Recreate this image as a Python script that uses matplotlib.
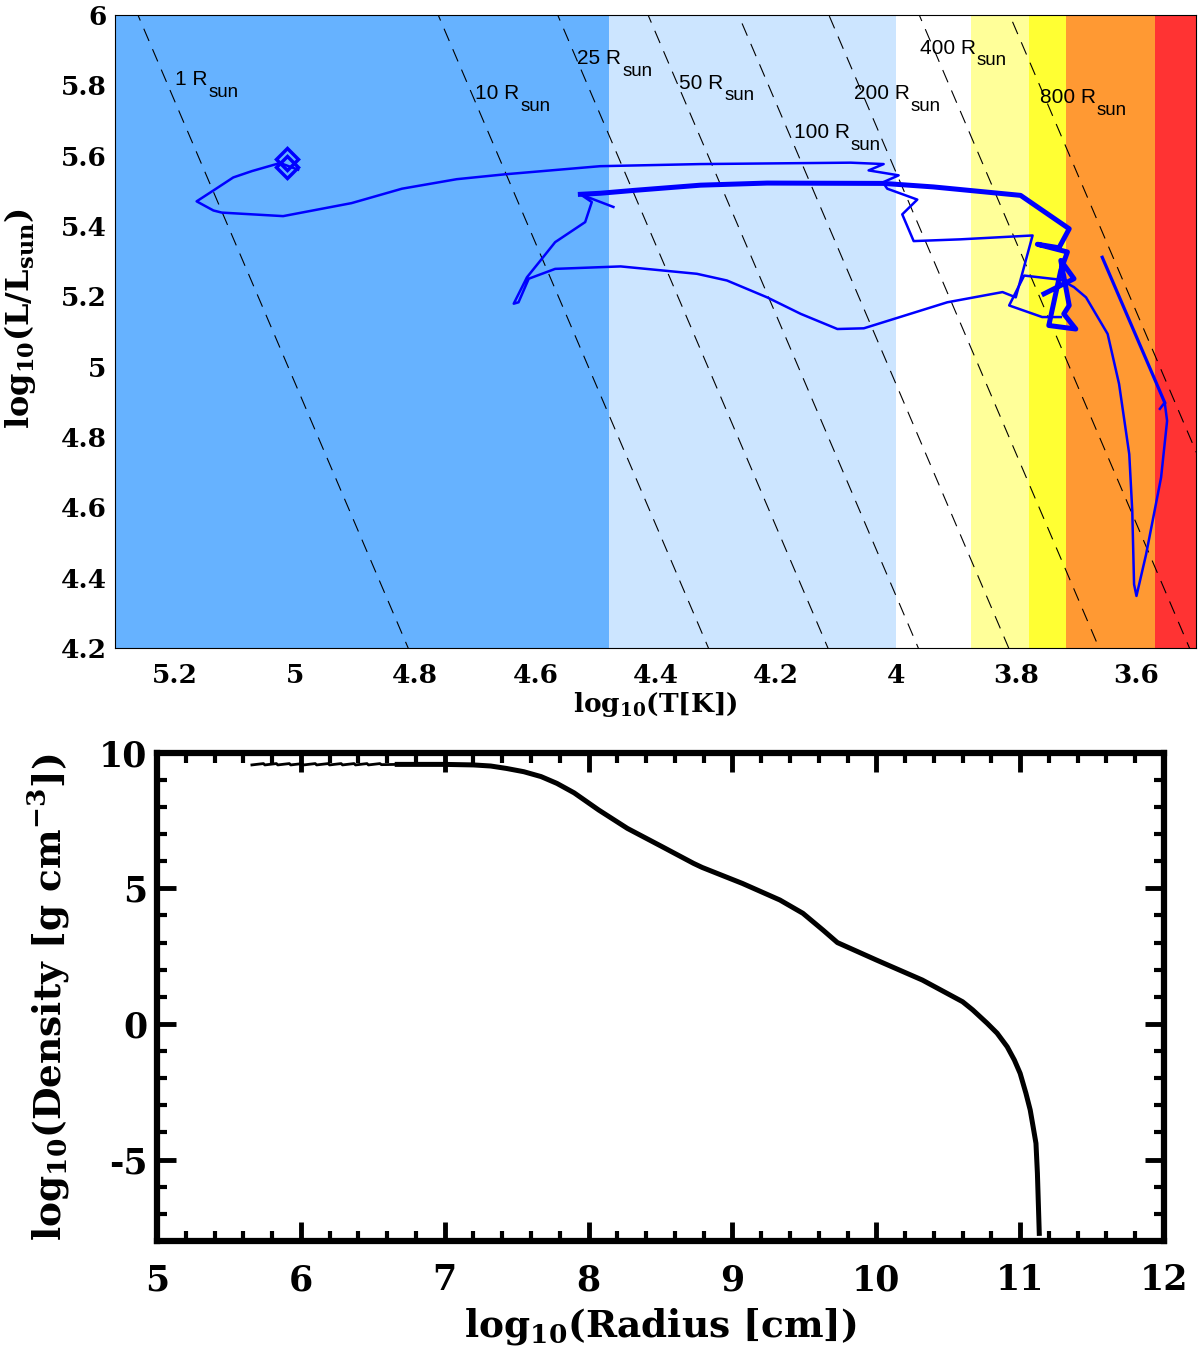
import numpy as np
import matplotlib
matplotlib.use('Agg')
import matplotlib.pyplot as plt
from matplotlib.ticker import MultipleLocator, FormatStrFormatter

plt.rcParams['font.family'] = 'DejaVu Serif'
plt.rcParams['font.weight'] = 'bold'
plt.rcParams['axes.labelweight'] = 'bold'
plt.rcParams['mathtext.fontset'] = 'custom'
plt.rcParams['mathtext.rm'] = 'DejaVu Serif:bold'
plt.rcParams['mathtext.bf'] = 'DejaVu Serif:bold'
plt.rcParams['mathtext.sf'] = 'Liberation Sans'
plt.rcParams['axes.unicode_minus'] = False

# ---- HR diagram data ----
# spectral-type bands (K), hot edge -> cool edge
band_hot_K = [200000, 30000, 10000, 7500, 6000, 5200, 3700]
band_cool_K = [30000, 10000, 7500, 6000, 5200, 3700, 3000]
band_colors = ['#66B2FF', '#CCE5FF', '#FFFFFF', '#FFFF99', '#FFFF33', '#FF9933', '#FF3333']

radii = [1, 10, 25, 50, 100, 200, 400, 800]
label_T = [5.20, 4.70, 4.53, 4.36, 4.17, 4.07, 3.96, 3.76]
label_L = [5.80, 5.76, 5.86, 5.79, 5.65, 5.76, 5.89, 5.75]
logT_sun = np.log10(5778.0)

# track pieces (log T, log L/Lsun)
ms_T = [4.995, 5.025, 5.072, 5.103, 5.136, 5.164, 5.136, 5.122, 5.020, 4.906,
        4.822, 4.731, 4.650, 4.492, 4.325, 4.075, 4.020, 4.045, 3.995, 4.020]
ms_L = [5.560, 5.579, 5.556, 5.538, 5.501, 5.470, 5.444, 5.438, 5.428, 5.465,
        5.506, 5.533, 5.547, 5.570, 5.576, 5.580, 5.576, 5.558, 5.544, 5.525]

thick_T = [4.525, 4.492, 4.437, 4.325, 4.214, 4.020, 3.937, 3.792, 3.711, 3.728,
           3.764, 3.714, 3.725, 3.745, 3.700, 3.720, 3.711, 3.725, 3.703, 3.753]
thick_L = [5.490, 5.493, 5.501, 5.516, 5.522, 5.521, 5.511, 5.487, 5.392, 5.338,
           5.348, 5.326, 5.274, 5.117, 5.107, 5.150, 5.174, 5.302, 5.250, 5.207]

loop_T = [4.470, 4.525, 4.506, 4.517, 4.567, 4.589, 4.614, 4.636, 4.628, 4.611,
          4.567, 4.458, 4.331, 4.281, 4.214, 4.158, 4.097, 4.053, 3.914, 3.822,
          3.800, 3.772, 3.892, 3.970, 3.989, 3.964, 4.014, 4.020]
loop_L = [5.454, 5.490, 5.468, 5.411, 5.354, 5.307, 5.254, 5.179, 5.183, 5.250,
          5.278, 5.285, 5.264, 5.245, 5.197, 5.150, 5.107, 5.109, 5.183, 5.212,
          5.197, 5.373, 5.362, 5.357, 5.433, 5.475, 5.506, 5.521]

rsg_T = [3.725, 3.756, 3.811, 3.786, 3.725, 3.703, 3.683, 3.647, 3.628, 3.611,
         3.606, 3.603, 3.599, 3.583, 3.558, 3.548, 3.552, 3.560]
rsg_L = [5.141, 5.141, 5.174, 5.259, 5.247, 5.226, 5.197, 5.093, 4.951, 4.751,
         4.590, 4.381, 4.348, 4.466, 4.685, 4.846, 4.898, 4.880]

end_T = [3.552, 3.656]
end_L = [4.898, 5.311]

zams_T = [5.014, 5.014]
zams_L = [5.590, 5.567]

# ---- density profile data ----
core_R = [5.66, 5.74, 5.75, 5.83, 5.84, 5.92, 5.93, 6.01, 6.02, 6.10, 6.11,
          6.19, 6.20, 6.28, 6.29, 6.37, 6.38, 6.46, 6.47, 6.55, 6.56, 6.67]
core_rho = [9.55, 9.60, 9.55, 9.60, 9.55, 9.60, 9.55, 9.60, 9.55, 9.60, 9.55,
            9.60, 9.55, 9.60, 9.55, 9.60, 9.55, 9.60, 9.55, 9.60, 9.56, 9.57]
log_radius = [6.67, 7.00, 7.20, 7.32, 7.43, 7.55, 7.67, 7.78, 7.90, 8.07, 8.27,
              8.51, 8.73, 8.79, 9.07, 9.33, 9.49, 9.63, 9.73, 10.00, 10.32,
              10.60, 10.67, 10.77, 10.84, 10.91, 10.96, 11.00, 11.04, 11.07,
              11.09, 11.11, 11.12, 11.133]
log_density = [9.57, 9.57, 9.55, 9.51, 9.42, 9.30, 9.12, 8.87, 8.52, 7.89, 7.21,
               6.54, 5.92, 5.77, 5.18, 4.57, 4.08, 3.46, 3.00, 2.36, 1.62,
               0.82, 0.52, 0.03, -0.34, -0.84, -1.33, -1.82, -2.55, -3.17,
               -3.78, -4.40, -5.50, -7.72]

fig = plt.figure(figsize=(12, 13.48), dpi=100)
renderer = fig.canvas.get_renderer()

# ---------------- top panel ----------------
ax1 = fig.add_axes([0.0958, 0.5193, 0.9008, 0.4696])
for hot, cool, c in zip(band_hot_K, band_cool_K, band_colors):
    ax1.axvspan(np.log10(cool), np.log10(hot), color=c, lw=0, zorder=0)

Tline = np.array([3.4, 5.4])
for R in radii:
    ax1.plot(Tline, 2 * np.log10(R) + 4 * (Tline - logT_sun), color='k',
             lw=0.8, dashes=(12, 8), zorder=1)

ax1.set_xlim(5.3, 3.5)
ax1.set_ylim(4.2, 6.0)

# radius labels, "sun" set as a near full-size lowered subscript
for R, t, l in zip(radii, label_T, label_L):
    txt = ax1.text(t, l, '%d R' % R, fontsize=15, family='Liberation Sans',
                   fontweight='normal', ha='left', va='baseline', zorder=2)
    ax1.annotate('sun', xy=(1, 0), xycoords=txt, xytext=(0.5, -5.5),
                 textcoords='offset points', fontsize=13.5,
                 family='Liberation Sans', fontweight='normal',
                 ha='left', va='baseline', zorder=2)

ax1.plot(ms_T, ms_L, color='#0000FF', lw=1.8, zorder=3)
ax1.plot(loop_T, loop_L, color='#0000FF', lw=1.8, zorder=3)
ax1.plot(rsg_T, rsg_L, color='#0000FF', lw=1.8, zorder=3)
ax1.plot(end_T, end_L, color='#0000FF', lw=2.3, zorder=3)
ax1.plot(thick_T, thick_L, color='#0000FF', lw=3.6, zorder=3)
ax1.plot(zams_T, zams_L, 'D', ms=11, mfc='none', mec='#0000FF', mew=2.5, zorder=4)

ax1.xaxis.set_major_locator(MultipleLocator(0.2))
ax1.yaxis.set_major_locator(MultipleLocator(0.2))
ax1.xaxis.set_major_formatter(FormatStrFormatter('%g'))
ax1.yaxis.set_major_formatter(FormatStrFormatter('%g'))
ax1.tick_params(axis='x', length=0, labelsize=19, pad=11)
ax1.tick_params(axis='y', length=0, labelsize=19, pad=6)
for s in ax1.spines.values():
    s.set_linewidth(0.8)
    s.set_zorder(5)
ax1.set_xlabel(r'log$_{10}$(T[K])', fontsize=19)
ax1.xaxis.set_label_coords(0.5, -0.066)
ax1.set_ylabel(r'log$_{10}$(L/L$_{\mathrm{sun}}$)', fontsize=23)
ax1.yaxis.set_label_coords(-0.071, 0.52)

# ---------------- bottom panel ----------------
ax2 = fig.add_axes([0.1308, 0.0794, 0.8392, 0.3622])
ax2.plot(core_R, core_rho, color='k', lw=2.0)
ax2.plot(log_radius, log_density, color='k', lw=3.6)
ax2.set_xlim(5, 12)
ax2.set_ylim(-8, 10)
ax2.xaxis.set_major_locator(MultipleLocator(1))
ax2.xaxis.set_minor_locator(MultipleLocator(0.2))
ax2.yaxis.set_major_locator(MultipleLocator(5))
ax2.yaxis.set_minor_locator(MultipleLocator(1))
ax2.xaxis.set_major_formatter(FormatStrFormatter('%g'))
ax2.yaxis.set_major_formatter(FormatStrFormatter('%g'))
ax2.tick_params(which='both', direction='in', top=True, right=True)
ax2.tick_params(which='major', length=14, width=3.5, labelsize=25)
ax2.tick_params(which='minor', length=7, width=3)
ax2.tick_params(axis='x', which='major', pad=16)
ax2.tick_params(axis='y', which='major', pad=7)
for s in ax2.spines.values():
    s.set_linewidth(4.5)
ax2.set_xlabel(r'log$_{10}$(Radius [cm])', fontsize=27)
ax2.xaxis.set_label_coords(0.5, -0.133)
ax2.set_ylabel(r'log$_{10}$(Density [g cm$^{-3}$])', fontsize=27)
ax2.yaxis.set_label_coords(-0.084, 0.5)

fig.savefig('out.png', dpi=100)
